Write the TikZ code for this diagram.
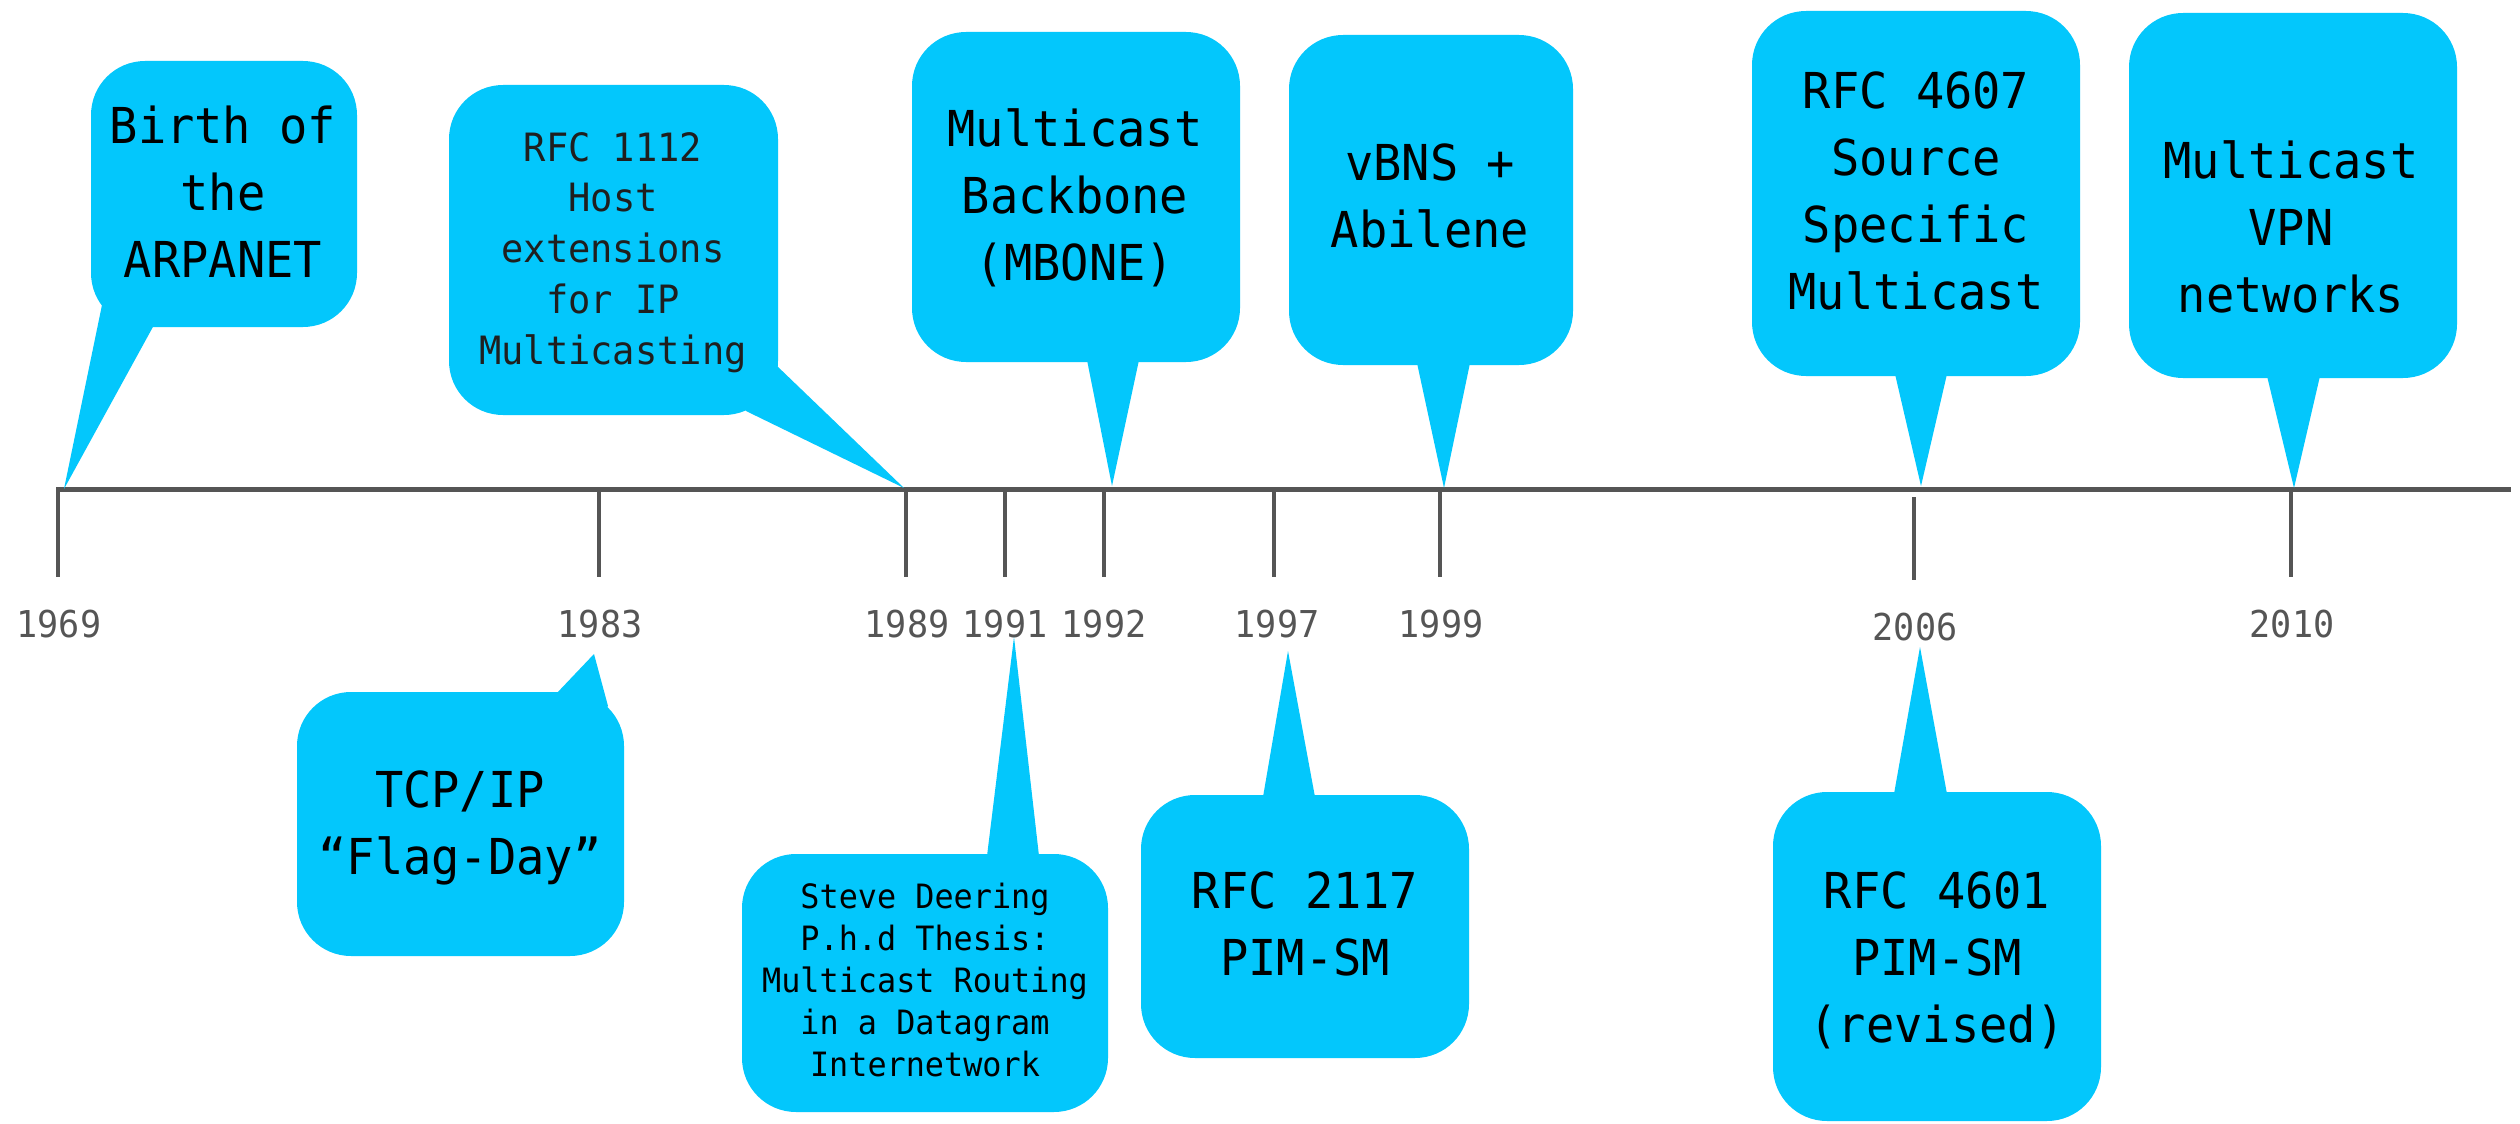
\documentclass[tikz,border=0pt]{standalone}
\usepackage{fontspec}
\newfontfamily\tlmono[FakeStretch=0.95]{DejaVu Sans Mono}
\usetikzlibrary{calc}
\definecolor{sky}{RGB}{3,199,252}
\definecolor{axisgray}{RGB}{85,85,85}

\begin{document}
\begin{tikzpicture}[x=1pt, y=-1pt,
  bubble/.style={rectangle, rounded corners=54pt, fill=sky, inner sep=0pt, outer sep=0pt},
  tail/.style={fill=sky},
  % multi-line labels are placed by the baseline of their last line
  txt/.style={align=center, anchor=base, inner sep=0pt, text=black},
  bigtxt/.style={txt, font=\tlmono\fontsize{49.5}{67}\selectfont},
  midtxt/.style={txt, text={black!88}, font=\tlmono\fontsize{39}{50.75}\selectfont},
  smalltxt/.style={txt, font=\tlmono\fontsize{33.5}{42}\selectfont},
  year/.style={anchor=base, inner sep=0pt, text=axisgray, font=\tlmono\fontsize{37}{44}\selectfont},
  axis/.style={draw=axisgray, line width=5pt},
  tick/.style={draw=axisgray, line width=4.5pt}]

\fill[white] (0,0) rectangle (2520,1124);
\useasboundingbox (0,0) rectangle (2520,1124);

% ---- time axis ----
\coordinate (axisL) at (56,489);
\coordinate (axisR) at (2511,489);
\coordinate (k1969) at (58,489);
\coordinate (k1983) at (599,489);
\coordinate (k1989) at (906,489);
\coordinate (k1991) at (1005,489);
\coordinate (k1992) at (1104,489);
\coordinate (k1997) at (1274,489);
\coordinate (k1999) at (1440,489);
\coordinate (k2006) at (1914,497);
\coordinate (k2010) at (2291,489);

\foreach \k in {1969,1983,1989,1991,1992,1997,1999,2010}
  \draw[tick] (k\k) -- ++(0,88);
\draw[tick] (k2006) -- ++(0,83);
\draw[axis] (axisL) -- (axisR);

\node[year] (y1969) at (59,637) {1969};
\node[year] (y1983) at (600,637) {1983};
\node[year] (y1989) at (907,637) {1989};
\node[year] (y1991) at (1005,637) {1991};
\node[year] (y1992) at (1104,637) {1992};
\node[year] (y1997) at (1277,637) {1997};
\node[year] (y1999) at (1441,637) {1999};
\node[year] (y2006) at (1915,640) {2006};
\node[year] (y2010) at (2292,637) {2010};

% ---- pointer tips ----
\coordinate (tipArpa)  at (64,489);
\coordinate (tipRfcA)  at (904,488);
\coordinate (tipMbone) at (1112,486);
\coordinate (tipVbns)  at (1444,488);
\coordinate (tipSsm)   at (1921,486);
\coordinate (tipVpn)   at (2294,488);
\coordinate (tipTcp)   at (594,654);
\coordinate (tipPhd)   at (1014,637);
\coordinate (tipPimA)  at (1288,651);
\coordinate (tipPimB)  at (1920,647);

% ---- callouts above the axis ----
\node[bubble, minimum width=266pt, minimum height=266pt] (arpa) at (224,194) {};
\fill[tail] ($(arpa.south west)+(11,-22)$) -- (tipArpa) -- ($(arpa.south west)+(63,-2)$) -- ($(arpa.south west)+(40,-40)$) -- cycle;
\node[bigtxt] (arpa-t) at (223,277) {Birth of\\the\\ARPANET};

\node[bubble, minimum width=329pt, minimum height=330pt] (rfcA) at (613.5,250) {};
\fill[tail] ($(rfcA.south east)+(-2,-50)$) -- (tipRfcA) -- ($(rfcA.south east)+(-32,-4)$) -- ($(rfcA.south east)+(-40,-40)$) -- cycle;
\node[midtxt] (rfcA-t) at (613,364) {RFC 1112\\Host\\extensions\\for IP\\Multicasting};

\node[bubble, minimum width=328pt, minimum height=330pt] (mbone) at (1076,197) {};
\fill[tail] ($(mbone.south)+(11,-2)$) -- (tipMbone) -- ($(mbone.south)+(63,-2)$) -- cycle;
\node[bigtxt] (mbone-t) at (1075,280) {Multicast\\Backbone\\(MBONE)};

\node[bubble, minimum width=284pt, minimum height=330pt] (vbns) at (1431,200) {};
\fill[tail] ($(vbns.south)+(-14,-2)$) -- (tipVbns) -- ($(vbns.south)+(39,-2)$) -- cycle;
\node[bigtxt] (vbns-t) at (1430,247) {vBNS +\\Abilene};

\node[bubble, minimum width=328pt, minimum height=365pt] (ssm) at (1916,193.5) {};
\fill[tail] ($(ssm.south)+(-21,-2)$) -- (tipSsm) -- ($(ssm.south)+(31,-2)$) -- cycle;
\node[bigtxt] (ssm-t) at (1916,309) {RFC 4607\\Source\\Specific\\Multicast};

\node[bubble, minimum width=328pt, minimum height=365pt] (vpn) at (2293,195.5) {};
\fill[tail] ($(vpn.south)+(-26,-2)$) -- (tipVpn) -- ($(vpn.south)+(27,-2)$) -- cycle;
\node[bigtxt] (vpn-t) at (2291,312) {Multicast\\VPN\\networks};

% ---- callouts below the axis ----
\node[bubble, minimum width=327pt, minimum height=264pt] (tcp) at (460.5,824) {};
\fill[tail] ($(tcp.north east)+(-68,2)$) -- (tipTcp) -- ($(tcp.north east)+(-16,14)$) -- ($(tcp.north east)+(-40,40)$) -- cycle;
\node[bigtxt] (tcp-t) at (460,874) {TCP/IP\\“Flag-Day”};

\node[bubble, minimum width=366pt, minimum height=258pt] (phd) at (925,983) {};
\fill[tail] ($(phd.north)+(62,2)$) -- (tipPhd) -- ($(phd.north)+(114,2)$) -- cycle;
\node[smalltxt] (phd-t) at (925,1076) {Steve Deering\\P.h.d Thesis:\\Multicast Routing\\in a Datagram\\Internetwork};

\node[bubble, minimum width=328pt, minimum height=263pt] (pimA) at (1305,926.5) {};
\fill[tail] ($(pimA.north)+(-42,2)$) -- (tipPimA) -- ($(pimA.north)+(10,2)$) -- cycle;
\node[bigtxt] (pimA-t) at (1305,975) {RFC 2117\\PIM-SM};

\node[bubble, minimum width=328pt, minimum height=329pt] (pimB) at (1937,956.5) {};
\fill[tail] ($(pimB.north)+(-43,2)$) -- (tipPimB) -- ($(pimB.north)+(10,2)$) -- cycle;
\node[bigtxt] (pimB-t) at (1937,1042) {RFC 4601\\PIM-SM\\(revised)};

\end{tikzpicture}
\end{document}
